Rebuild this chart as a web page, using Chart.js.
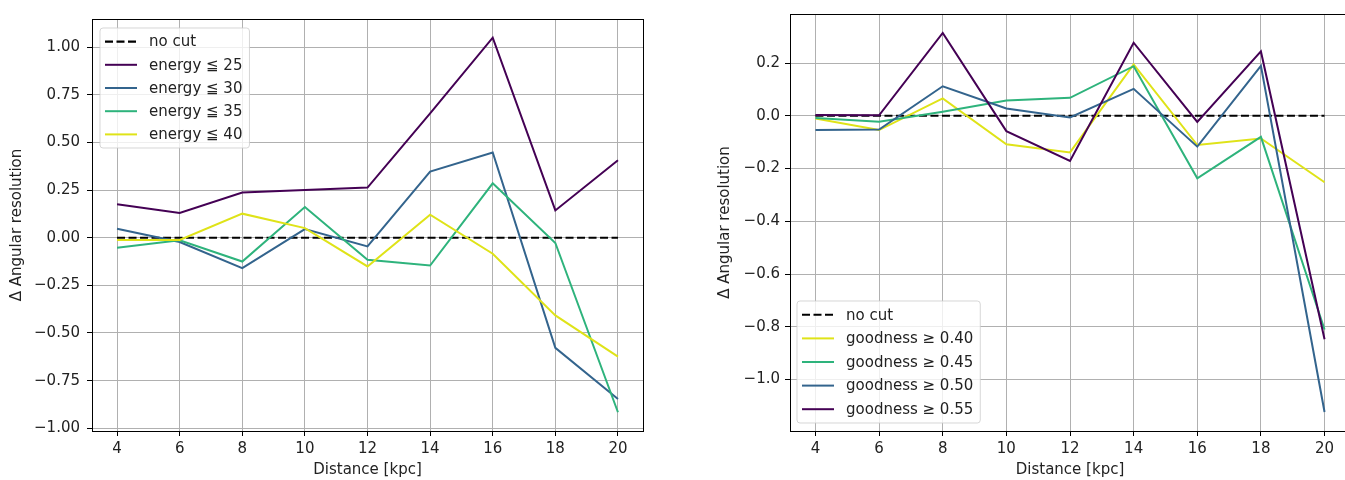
<!DOCTYPE html>
<html>
<head>
<meta charset="utf-8">
<script src="https://cdn.jsdelivr.net/npm/chart.js@4.4.0/dist/chart.umd.min.js"></script>
<style>
  html, body { margin: 0; padding: 0; background: #fff; overflow: hidden; width: 1345px; height: 480px; }
  #wrapL { position: absolute; left: 0; top: 0; width: 660px; height: 480px; }
  #wrapR { position: absolute; left: 680px; top: 0; width: 680px; height: 480px; }
</style>
</head>
<body>
<div id="wrapL"><canvas id="left" width="660" height="480"></canvas></div>
<div id="wrapR"><canvas id="right" width="680" height="480"></canvas></div>
<script>
// ---------- data ----------
const distances = [4, 6, 8, 10, 12, 14, 16, 18, 20];
const noCut = [0, 0, 0, 0, 0, 0, 0, 0, 0];

const energy25 = [0.175, 0.13, 0.237, 0.25, 0.263, 0.652, 1.049, 0.143, 0.406];
const energy30 = [0.047, -0.023, -0.16, 0.045, -0.046, 0.347, 0.447, -0.578, -0.846];
const energy35 = [-0.053, -0.014, -0.125, 0.161, -0.116, -0.146, 0.285, -0.028, -0.916];
const energy40 = [-0.012, -0.012, 0.126, 0.05, -0.151, 0.121, -0.084, -0.408, -0.624];

const goodness40 = [-0.01, -0.054, 0.066, -0.108, -0.139, 0.195, -0.111, -0.086, -0.252];
const goodness45 = [-0.008, -0.023, 0.015, 0.058, 0.068, 0.188, -0.237, -0.08, -0.81];
const goodness50 = [-0.054, -0.052, 0.112, 0.028, -0.006, 0.102, -0.117, 0.189, -1.123];
const goodness55 = [0.003, 0.002, 0.314, -0.058, -0.171, 0.277, -0.023, 0.244, -0.847];

const xTicks = [4, 6, 8, 10, 12, 14, 16, 18, 20];
const xTickLabels = ['4', '6', '8', '10', '12', '14', '16', '18', '20'];
const leftYTicks = [-1.0, -0.75, -0.5, -0.25, 0, 0.25, 0.5, 0.75, 1.0];
const leftYTickLabels = ['\u22121.00', '\u22120.75', '\u22120.50', '\u22120.25', '0.00', '0.25', '0.50', '0.75', '1.00'];
const rightYTicks = [-1.0, -0.8, -0.6, -0.4, -0.2, 0, 0.2];
const rightYTickLabels = ['\u22121.0', '\u22120.8', '\u22120.6', '\u22120.4', '\u22120.2', '0.0', '0.2'];

const leftLabels = ['no cut', 'energy \u2266 25', 'energy \u2266 30', 'energy \u2266 35', 'energy \u2266 40'];
const rightLabels = ['no cut', 'goodness \u2265 0.40', 'goodness \u2265 0.45', 'goodness \u2265 0.50', 'goodness \u2265 0.55'];

// ---------- styling ----------
const FONT = 'DejaVu Sans';
const FS = 15;
const C_PURPLE = '#440154', C_BLUE = '#33648d', C_GREEN = '#2eb37c', C_YELLOW = '#dfe318';

function pts(ys) { return distances.map((x, i) => ({ x: x, y: ys[i] })); }
function bounds(arrs) {
  const all = [].concat(...arrs);
  const mn = Math.min(...all), mx = Math.max(...all), m = (mx - mn) * 0.05;
  return [mn - m, mx + m];
}
function xBounds() {
  const mn = Math.min(...distances), mx = Math.max(...distances), m = (mx - mn) * 0.05;
  return [mn - m, mx + m];
}

function makeDatasets(labels, series, colors) {
  const n = series.length;
  return series.map((s, i) => ({
    label: labels[i],
    data: pts(s),
    borderColor: colors[i],
    backgroundColor: colors[i],
    borderWidth: i === 0 ? 2.1 : 2,
    borderDash: i === 0 ? [8, 3.5] : [],
    pointRadius: 0,
    pointHoverRadius: 0,
    tension: 0,
    fill: false,
    order: n - i
  }));
}

const framePlugin = {
  id: 'frame',
  afterDatasetsDraw(chart) {
    const { ctx, chartArea: a } = chart;
    ctx.save();
    ctx.strokeStyle = '#000';
    ctx.lineWidth = 1;
    ctx.strokeRect(Math.round(a.left) + 0.5, Math.round(a.top) + 0.5, Math.round(a.right - a.left), Math.round(a.bottom - a.top));
    ctx.restore();

    const o = chart.options.plugins.mplLegend;
    if (!o) return;
    const ds = chart.data.datasets;
    ctx.save();
    ctx.font = FS + 'px "' + FONT + '"';
    let tw = 0;
    ds.forEach(d => { tw = Math.max(tw, ctx.measureText(d.label).width); });
    const rowH = o.rowH, padL = 5, hLen = 32, gap = 12, padR = 7;
    const w = padL + hLen + gap + tw + padR;
    const h = ds.length * rowH + 4;
    const x0 = a.left + o.dx;
    const y0 = o.loc === 'upper' ? a.top + o.dy : a.bottom - o.dy - h;
    const r = 3;
    ctx.beginPath();
    ctx.moveTo(x0 + r, y0);
    ctx.lineTo(x0 + w - r, y0); ctx.quadraticCurveTo(x0 + w, y0, x0 + w, y0 + r);
    ctx.lineTo(x0 + w, y0 + h - r); ctx.quadraticCurveTo(x0 + w, y0 + h, x0 + w - r, y0 + h);
    ctx.lineTo(x0 + r, y0 + h); ctx.quadraticCurveTo(x0, y0 + h, x0, y0 + h - r);
    ctx.lineTo(x0, y0 + r); ctx.quadraticCurveTo(x0, y0, x0 + r, y0);
    ctx.closePath();
    ctx.fillStyle = 'rgba(255,255,255,0.8)';
    ctx.fill();
    ctx.strokeStyle = 'rgba(204,204,204,0.8)';
    ctx.lineWidth = 1;
    ctx.stroke();
    ds.forEach((d, i) => {
      const cy = y0 + 2 + rowH * (i + 0.5);
      ctx.beginPath();
      ctx.setLineDash(d.borderDash || []);
      ctx.strokeStyle = d.borderColor;
      ctx.lineWidth = d.borderWidth;
      ctx.moveTo(x0 + padL, cy);
      ctx.lineTo(x0 + padL + hLen, cy);
      ctx.stroke();
      ctx.setLineDash([]);
      ctx.fillStyle = '#222';
      ctx.textBaseline = 'middle';
      ctx.textAlign = 'left';
      ctx.fillText(d.label, x0 + padL + hLen + gap, cy + 1);
    });
    ctx.restore();
  }
};

function makeChart(id, cfg) {
  const [xmin, xmax] = xBounds();
  const [ymin, ymax] = bounds(cfg.series.slice(1));
  const fontObj = { family: FONT, size: FS, lineHeight: 1.2 };
  return new Chart(document.getElementById(id), {
    type: 'line',
    data: { datasets: makeDatasets(cfg.labels, cfg.series, cfg.colors) },
    options: {
      responsive: false,
      animation: false,
      devicePixelRatio: 1,
      layout: { padding: { left: 0, right: cfg.padRight, top: cfg.padTop, bottom: 0 } },
      plugins: {
        legend: { display: false },
        tooltip: { enabled: false },
        mplLegend: cfg.legend
      },
      scales: {
        x: {
          type: 'linear',
          min: xmin, max: xmax,
          afterBuildTicks: s => { s.ticks = xTicks.map(v => ({ value: v })); },
          afterFit: s => { s.height = 49; },
          ticks: {
            color: '#222', font: fontObj, padding: 4, maxRotation: 0, autoSkip: false,
            callback: (v) => { const i = xTicks.indexOf(v); return i >= 0 ? xTickLabels[i] : ''; }
          },
          grid: { color: '#b0b0b0', lineWidth: 1, drawTicks: true, tickLength: 5, tickColor: '#000', tickWidth: 1 },
          border: { display: false },
          title: { display: true, text: 'Distance [kpc]', color: '#222', font: fontObj, padding: { top: 0, bottom: 1 } }
        },
        y: {
          type: 'linear',
          min: ymin, max: ymax,
          afterBuildTicks: s => { s.ticks = cfg.yTicks.map(v => ({ value: v })); },
          afterFit: s => { s.width = cfg.yWidth; },
          ticks: {
            color: '#222', font: fontObj, padding: cfg.yPad, autoSkip: false,
            callback: (v) => {
              const i = cfg.yTicks.findIndex(t => Math.abs(t - v) < 1e-9);
              return i >= 0 ? cfg.yTickLabels[i] : '';
            }
          },
          grid: { color: '#b0b0b0', lineWidth: 1, drawTicks: true, tickLength: 5, tickColor: '#000', tickWidth: 1 },
          border: { display: false },
          title: { display: true, text: '\u0394 Angular resolution', color: '#222', font: fontObj, padding: { top: cfg.yTitlePad, bottom: 0 } }
        }
      }
    },
    plugins: [framePlugin]
  });
}

makeChart('left', {
  labels: leftLabels,
  series: [noCut, energy25, energy30, energy35, energy40],
  colors: ['#000', C_PURPLE, C_BLUE, C_GREEN, C_YELLOW],
  yTicks: leftYTicks, yTickLabels: leftYTickLabels,
  yWidth: 92, yPad: 7, yTitlePad: 8,
  padRight: 17, padTop: 19,
  legend: { loc: 'upper', dx: 8, dy: 9, rowH: 23.2 }
});

makeChart('right', {
  labels: rightLabels,
  series: [noCut, goodness40, goodness45, goodness50, goodness55],
  colors: ['#000', C_YELLOW, C_GREEN, C_BLUE, C_PURPLE],
  yTicks: rightYTicks, yTickLabels: rightYTickLabels,
  yWidth: 110, yPad: 5, yTitlePad: 36,
  padRight: 10, padTop: 13,
  legend: { loc: 'lower', dx: 7, dy: 8, rowH: 23.6 }
});
</script>
</body>
</html>
